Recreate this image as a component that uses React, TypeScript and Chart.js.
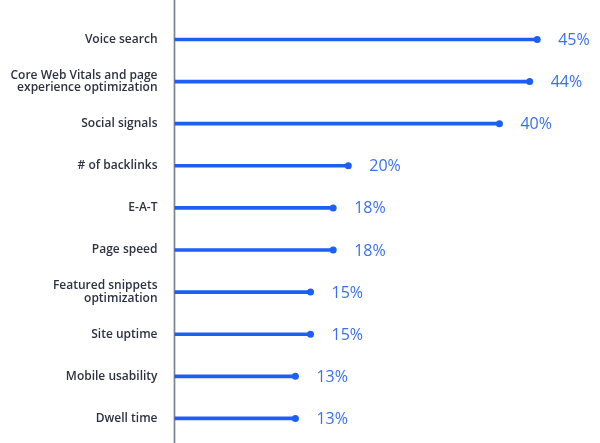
import React, { useEffect, useRef } from "react";
import { Chart, registerables } from "chart.js";

Chart.register(...registerables);

const categories: (string | string[])[] = [
  "Voice search",
  ["Core Web Vitals and page", "experience optimization"],
  "Social signals",
  "# of backlinks",
  "E-A-T",
  "Page speed",
  ["Featured snippets", "optimization"],
  "Site uptime",
  "Mobile usability",
  "Dwell time",
];

const values: number[] = [45, 44, 40, 20, 18, 18, 15, 15, 13, 13];

const X_MIN = -3;
const X_MAX = 50;

const LINE_COLOR = "#1d5ef3";
const LABEL_COLOR = "#3a70ef";
const AXIS_COLOR = "#7d8391";
const TEXT_COLOR = "#2c3243";

const axisLinePlugin = {
  id: "axisLine",
  beforeDatasetsDraw(chart: any) {
    const { ctx, chartArea, height } = chart;
    ctx.save();
    ctx.strokeStyle = AXIS_COLOR;
    ctx.lineWidth = 1.7;
    ctx.beginPath();
    ctx.moveTo(chartArea.left, 0);
    ctx.lineTo(chartArea.left, height);
    ctx.stroke();
    ctx.restore();
  },
};

const valueLabelPlugin = {
  id: "valueLabels",
  afterDatasetsDraw(chart: any) {
    const { ctx } = chart;
    const meta = chart.getDatasetMeta(1);
    ctx.save();
    ctx.fillStyle = LABEL_COLOR;
    ctx.font = "16px 'Open Sans', sans-serif";
    ctx.textAlign = "left";
    ctx.textBaseline = "middle";
    meta.data.forEach((pt: any, i: number) => {
      ctx.fillText(values[i] + "%", pt.x + 21, pt.y + 1);
    });
    ctx.restore();
  },
};

export default function App() {
  const canvasRef = useRef<HTMLCanvasElement>(null);

  useEffect(() => {
    document.body.style.margin = "0";
    const chart = new Chart(canvasRef.current!, {
      type: "bar",
      data: {
        labels: categories,
        datasets: [
          {
            type: "bar",
            data: values,
            backgroundColor: LINE_COLOR,
            barThickness: 3,
            base: X_MIN,
            order: 2,
          } as any,
          {
            type: "line",
            data: values,
            indexAxis: "y",
            showLine: false,
            pointRadius: 3.5,
            pointHoverRadius: 3.5,
            pointBackgroundColor: LINE_COLOR,
            pointBorderWidth: 0,
            borderColor: LINE_COLOR,
            order: 1,
          } as any,
        ],
      },
      options: {
        indexAxis: "y",
        animation: false,
        responsive: false,
        layout: { padding: { top: 18.4, bottom: 1.5, left: 0, right: 25 } },
        plugins: {
          legend: { display: false },
          tooltip: { enabled: false },
        },
        scales: {
          x: {
            min: X_MIN,
            max: X_MAX,
            display: false,
          },
          y: {
            offset: true,
            grid: { display: false, drawTicks: false },
            border: { display: false },
            afterFit(scale: any) {
              scale.width = 174.5;
              scale.paddingTop = 0;
              scale.paddingBottom = 0;
            },
            ticks: {
              padding: 17,
              color: TEXT_COLOR,
              font: { family: "'Open Sans', sans-serif", size: 12, weight: "600", lineHeight: 1.05 },
            },
          },
        },
      },
      plugins: [axisLinePlugin, valueLabelPlugin],
    });
    return () => chart.destroy();
  }, []);

  return (
    <div style={{ position: "fixed", left: 0, top: 0, width: 600, height: 443, background: "#fff" }}>
      <canvas ref={canvasRef} width={600} height={443} style={{ display: "block" }} />
    </div>
  );
}
